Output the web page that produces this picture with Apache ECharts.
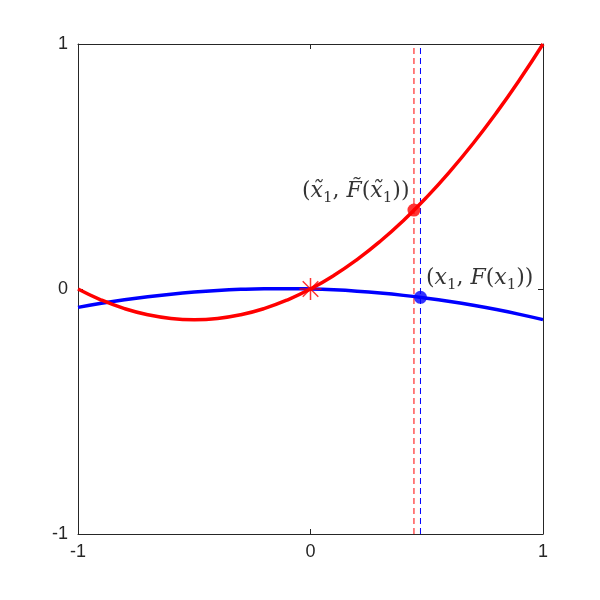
<!DOCTYPE html>
<html>
<head>
<meta charset="utf-8">
<script src="https://cdn.jsdelivr.net/npm/echarts@6/dist/echarts.min.js"></script>
<style>html,body{margin:0;padding:0;background:#fff;}#c{width:600px;height:600px;}</style>
</head>
<body>
<div id="c"></div>
<script>
var xs = [-1,-0.9,-0.8,-0.7,-0.6,-0.5,-0.4,-0.3,-0.2,-0.1,0,0.1,0.2,0.3,0.4,0.5,0.6,0.7,0.8,0.9,1];
var redY = [0,-0.045,-0.08,-0.105,-0.12,-0.125,-0.12,-0.105,-0.08,-0.045,0,0.055,0.12,0.195,0.28,0.375,0.48,0.595,0.72,0.855,1];
var blueY = [-0.075,-0.0585,-0.044,-0.0315,-0.021,-0.0125,-0.006,-0.0015,0.001,0.0015,0,-0.0035,-0.009,-0.0165,-0.026,-0.0375,-0.051,-0.0665,-0.084,-0.1035,-0.125];
var xTicks = [-1, 0, 1];
var yTicks = [-1, 0, 1];
var redPoint = [0.445, 0.322];
var bluePoint = [0.473, -0.034];
var starPoint = [0, 0];
var redDashX = 0.445;
var blueDashX = 0.473;

function pairs(a, b) { return a.map(function (v, i) { return [v, b[i]]; }); }

var serifRich = {
  n: { fontFamily: 'DejaVu Serif', fontSize: 22, color: '#000', lineHeight: 28, verticalAlign: 'middle' },
  i: { fontFamily: 'DejaVu Serif', fontStyle: 'italic', fontSize: 22, color: '#000', lineHeight: 28, verticalAlign: 'middle' },
  s: { fontFamily: 'DejaVu Serif', fontSize: 15, color: '#000', lineHeight: 20, verticalAlign: 'bottom' }
};

var axisCommon = {
  type: 'value', min: -1, max: 1, interval: 1,
  splitLine: { show: false },
  axisLine: { show: true, onZero: false, lineStyle: { color: '#262626', width: 1 } },
  axisTick: { show: true, inside: true, length: 5, lineStyle: { color: '#262626' } }
};
var labelStyle = { fontFamily: 'Liberation Sans', fontSize: 18, color: '#262626' };

var chart = echarts.init(document.getElementById('c'));
chart.setOption({
  animation: false,
  backgroundColor: '#fff',
  grid: { left: 78, right: 57, top: 44, bottom: 66 },
  xAxis: [
    Object.assign({}, axisCommon, { position: 'bottom', axisLabel: Object.assign({ margin: 9, formatter: function (v) { return xTicks.indexOf(v) >= 0 ? String(v) : ''; } }, labelStyle) }),
    Object.assign({}, axisCommon, { position: 'top', axisLabel: { show: false } })
  ],
  yAxis: [
    Object.assign({}, axisCommon, { position: 'left', axisLabel: Object.assign({ margin: 10, formatter: function (v) { return yTicks.indexOf(v) >= 0 ? String(v) : ''; } }, labelStyle) }),
    Object.assign({}, axisCommon, { position: 'right', axisLabel: { show: false } })
  ],
  series: [
    { type: 'line', data: [[redDashX, -1], [redDashX, 1]], symbol: 'none', lineStyle: { color: '#ff0000', width: 1, type: [6, 4] }, z: 1 },
    { type: 'line', data: [[blueDashX, -1], [blueDashX, 1]], symbol: 'none', lineStyle: { color: '#0000ff', width: 1, type: [6, 4] }, z: 1 },
    { type: 'line', data: pairs(xs, blueY), smooth: true, symbol: 'none', lineStyle: { color: '#0000ff', width: 3.5 }, z: 2 },
    { type: 'line', data: pairs(xs, redY), smooth: true, symbol: 'none', lineStyle: { color: '#ff0000', width: 3.5 }, z: 3 },
    { type: 'scatter', data: [starPoint], symbol: 'path://M0,-10L0,10M-10,0L10,0M-7.07,-7.07L7.07,7.07M-7.07,7.07L7.07,-7.07', symbolSize: 22,
      itemStyle: { color: 'rgba(0,0,0,0)', borderColor: '#ff0000', borderWidth: 1.5 }, z: 5 },
    { type: 'scatter', data: [redPoint], symbol: 'circle', symbolSize: 13, itemStyle: { color: '#ff0000' }, z: 5,
      label: { show: true, position: 'left', distance: 5, offset: [7, -19], rich: serifRich,
        formatter: '{n|(}{i|x\u0303}{s|1}{n|, }{i|F\u0303}{n|(}{i|x\u0303}{s|1}{n|))}' } },
    { type: 'scatter', data: [bluePoint], symbol: 'circle', symbolSize: 13, itemStyle: { color: '#0000ff' }, z: 5,
      label: { show: true, position: 'right', distance: 5, offset: [-6, -19], rich: serifRich,
        formatter: '{n|(}{i|x}{s|1}{n|, }{i|F}{n|(}{i|x}{s|1}{n|))}' } }
  ]
});
</script>
</body>
</html>
